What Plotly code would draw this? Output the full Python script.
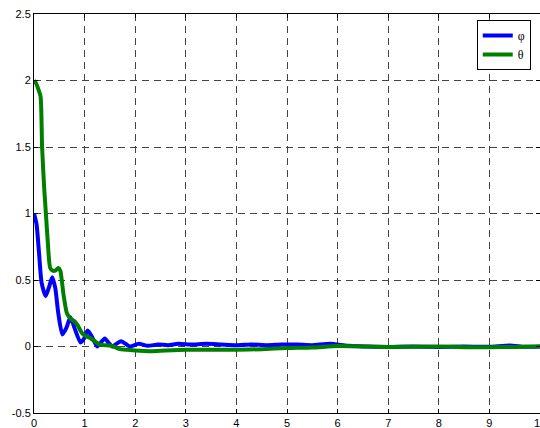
import plotly.graph_objects as go

t_phi = [0, 0.05, 0.1, 0.15, 0.23, 0.3, 0.36, 0.42, 0.48, 0.56, 0.64, 0.72, 0.8, 0.92, 0.99,
         1.06, 1.15, 1.25, 1.32, 1.4, 1.47, 1.55, 1.63, 1.72, 1.81, 1.9, 2.07, 2.25, 2.45,
         2.65, 2.85, 3.1, 3.4, 3.7, 4.0, 4.3, 4.6, 4.9, 5.2, 5.5, 5.85, 6.2, 6.6, 7.0, 7.5,
         8.0, 8.5, 9.0, 9.4, 9.7, 10]
phi = [1.0, 0.92, 0.7, 0.48, 0.38, 0.45, 0.52, 0.44, 0.25, 0.09, 0.14, 0.22, 0.14, 0.03, 0.06,
       0.12, 0.07, 0.0, 0.03, 0.06, 0.03, 0.0, 0.02, 0.04, 0.02, 0.0, 0.02, 0.005, 0.015,
       0.01, 0.02, 0.015, 0.02, 0.015, 0.01, 0.015, 0.01, 0.015, 0.015, 0.01, 0.02, 0.005, 0.0,
       -0.003, 0.0, -0.003, 0.0, -0.002, 0.008, -0.002, 0.0]

t_theta = [0, 0.04, 0.09, 0.13, 0.16, 0.2, 0.235, 0.27, 0.32, 0.37, 0.42, 0.48, 0.52, 0.58,
           0.65, 0.72, 0.8, 0.86, 0.95, 1.02, 1.1, 1.2, 1.3, 1.4, 1.5, 1.6, 1.7, 1.85, 2.0,
           2.3, 2.6, 3.0, 3.5, 4.0, 4.5, 5.0, 5.5, 6.0, 6.5, 7.0, 7.5, 8.0, 8.5, 9.0, 9.5, 10]
theta = [2.0, 1.98, 1.93, 1.88, 1.5, 1.2, 1.0, 0.8, 0.59, 0.57, 0.57, 0.59, 0.57, 0.4,
         0.25, 0.21, 0.19, 0.16, 0.1, 0.08, 0.065, 0.04, 0.015, 0.01, 0.008, -0.005, -0.02,
         -0.025, -0.03, -0.035, -0.03, -0.025, -0.025, -0.025, -0.02, -0.012, -0.008, 0.003,
         0.0, -0.003, -0.002, 0.0, -0.005, -0.005, -0.003, 0.0]

x_ticks = [0, 1, 2, 3, 4, 5, 6, 7, 8, 9, 10]
y_ticks = [-0.5, 0, 0.5, 1, 1.5, 2, 2.5]
y_labels = ["-0.5", "0", "0.5", "1", "1.5", "2", "2.5"]

fig = go.Figure()
fig.add_trace(go.Scatter(x=t_phi, y=phi, mode="lines", name="\u03c6",
                         line=dict(color="#0000ff", width=4, shape="spline", smoothing=0.6)))
fig.add_trace(go.Scatter(x=t_theta, y=theta, mode="lines", name="\u03b8",
                         line=dict(color="#008000", width=4, shape="spline", smoothing=0.6)))

axis_common = dict(showline=True, linecolor="black", linewidth=1, mirror="allticks",
                   ticks="inside", ticklen=4, tickcolor="black", showgrid=True,
                   gridcolor="#444444", gridwidth=1, griddash="7px,5px", zeroline=False,
                   ticklabeloverflow="allow", automargin=False,
                   tickfont=dict(family="Liberation Sans, Arial", size=11, color="black"))

fig.update_xaxes(range=[0, 10], tickvals=x_ticks, ticktext=[str(v) for v in x_ticks],
                 **axis_common)
fig.update_yaxes(range=[-0.5, 2.5], tickvals=y_ticks, ticktext=y_labels, **axis_common)

fig.update_layout(
    width=540, height=428,
    margin=dict(l=34, r=0, t=14, b=15, autoexpand=False),
    plot_bgcolor="white", paper_bgcolor="white",
    showlegend=True,
    legend=dict(x=0.875, y=0.985, xanchor="left", yanchor="top",
                bgcolor="white", bordercolor="black", borderwidth=1,
                font=dict(family="Liberation Serif, Times New Roman", size=12, color="black"),
                tracegroupgap=0, itemwidth=30),
)

fig.write_html("out.html",
               config={"displayModeBar": False},
               post_script="document.body.style.margin='0';document.body.style.overflow='hidden';")
